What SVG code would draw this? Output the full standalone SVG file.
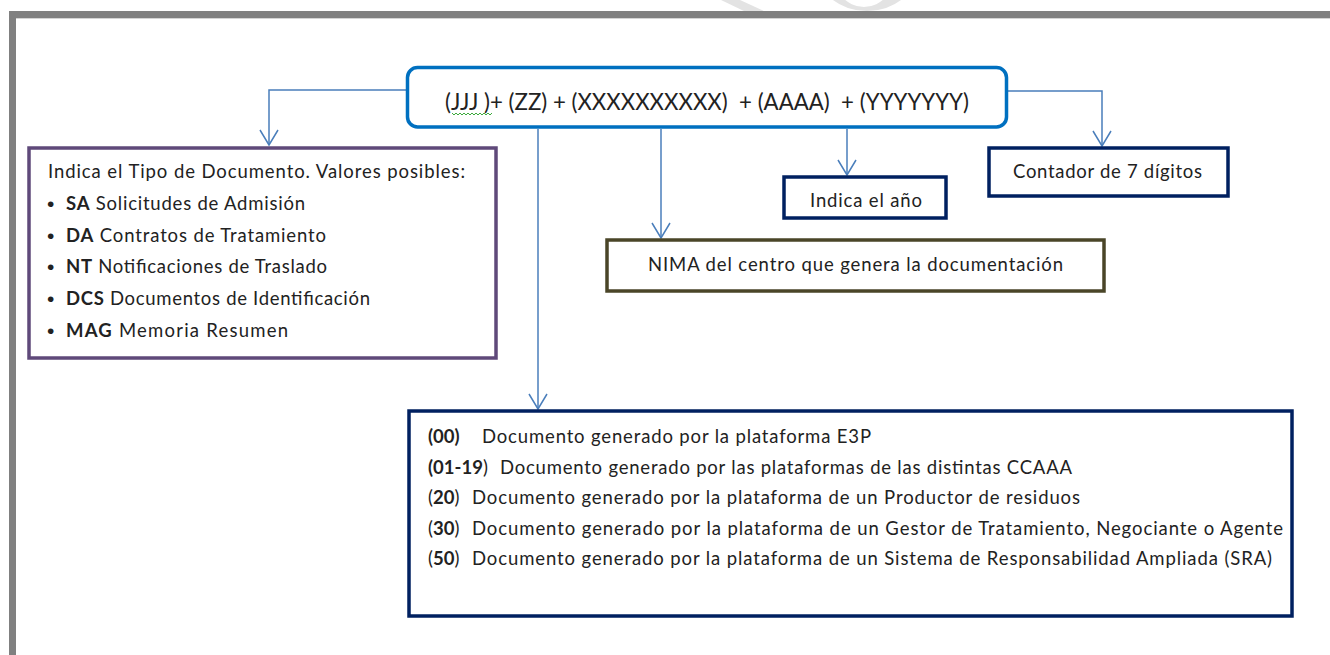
<svg xmlns="http://www.w3.org/2000/svg" width="1330" height="655" viewBox="0 0 1330 655">
  <style>
    .t { font-family: Lato, "Liberation Sans", sans-serif; font-size: 18.5px; fill: #222; white-space: pre; }
    .b { font-weight: bold; }
    .big { font-size: 23px; }
    .bul { font-family: "Liberation Sans", sans-serif; font-size: 21px; fill: #222; }
    .conn { fill: none; stroke: #4A7EBB; stroke-width: 1.5; }
    .box { fill: #fff; stroke-width: 3.5; }
  </style>
  <defs>
    <marker id="arr" markerUnits="userSpaceOnUse" markerWidth="22" markerHeight="22" viewBox="0 0 22 22" refX="17" refY="11" orient="auto">
      <path d="M2,2 L17,11 L2,20" fill="none" stroke="#4A7EBB" stroke-width="1.5"/>
    </marker>
    <clipPath id="topclip"><rect x="0" y="0" width="1330" height="12"/></clipPath>
  </defs>
  <rect width="1330" height="655" fill="#fff"/>
  <!-- watermark fragment -->
  <g fill="#e3e3e3" clip-path="url(#topclip)">
    <polygon points="721,0 740,0 766,12 746,12"/>
    <path fill-rule="evenodd" d="M817,-30 A50,41 0 0 0 917,-30 A50,41 0 0 0 817,-30 Z M832,-30 A32,37 0 0 0 896,-30 A32,37 0 0 0 832,-30 Z"/>
  </g>
  <!-- page frame -->
  <g id="frame">
    <rect x="9" y="11" width="1321" height="7" fill="#808080"/>
    <rect x="9" y="11" width="7" height="644" fill="#808080"/>
    <rect x="16" y="18" width="1314" height="1" fill="#d4d4d4"/>
  </g>

  <g id="connectors">
    <path class="conn" d="M406,90 H269 V145" marker-end="url(#arr)"/>
    <path class="conn" d="M538,129 V409" marker-end="url(#arr)"/>
    <path class="conn" d="M661,129 V238" marker-end="url(#arr)"/>
    <path class="conn" d="M847,129 V175" marker-end="url(#arr)"/>
    <path class="conn" d="M1008,91 H1102 V146" marker-end="url(#arr)"/>
  </g>

  <g id="code">
    <rect class="box" x="407.5" y="67.5" width="599" height="59.5" rx="10" stroke="#0070C0" stroke-width="4"/>
    <text class="t big" x="445" y="110" textLength="524" lengthAdjust="spacingAndGlyphs">(JJJ )+ (ZZ) + (XXXXXXXXXX)  + (AAAA)  + (YYYYYYY)</text>
    <path d="M452,113 l2,2 l2,-2 l2,2 l2,-2 l2,2 l2,-2 l2,2 l2,-2 l2,2 l2,-2 l2,2 l2,-2 l2,2 l2,-2 l2,2 l2,-2 l2,2 l2,-2 l2,2 l2,-2" fill="none" stroke="#3DAA3D" stroke-width="1"/>
  </g>

  <g id="tipo">
    <rect class="box" x="29" y="148" width="467" height="210" stroke="#5F497A"/>
    <text class="t" x="48" y="178" textLength="417">Indica el Tipo de Documento. Valores posibles:</text>
    <text class="bul" x="47" y="211">•</text>
    <text class="t" x="66" y="210" textLength="239"><tspan class="b">SA</tspan> Solicitudes de Admisión</text>
    <text class="bul" x="47" y="243">•</text>
    <text class="t" x="66" y="242" textLength="260"><tspan class="b">DA</tspan> Contratos de Tratamiento</text>
    <text class="bul" x="47" y="274">•</text>
    <text class="t" x="66" y="273" textLength="261"><tspan class="b">NT</tspan> Notificaciones de Traslado</text>
    <text class="bul" x="47" y="306">•</text>
    <text class="t" x="66" y="305" textLength="304"><tspan class="b">DCS</tspan> Documentos de Identificación</text>
    <text class="bul" x="47" y="338">•</text>
    <text class="t" x="66" y="337" textLength="222"><tspan class="b">MAG</tspan> Memoria Resumen</text>
  </g>

  <g id="anio">
    <rect class="box" x="784" y="177" width="162" height="41" stroke="#002060"/>
    <text class="t" x="810" y="207" textLength="112">Indica el año</text>
  </g>

  <g id="contador">
    <rect class="box" x="989" y="148" width="239" height="48" stroke="#002060"/>
    <text class="t" x="1013" y="178" textLength="189">Contador de 7 dígitos</text>
  </g>

  <g id="nima">
    <rect class="box" x="607" y="240" width="497" height="51" stroke="#4A4528"/>
    <text class="t" x="648" y="271" textLength="415">NIMA del centro que genera la documentación</text>
  </g>

  <g id="plataforma">
    <rect class="box" x="409" y="411" width="883" height="205" stroke="#002060" stroke-width="4"/>
    <text class="t b" x="428" y="443">(00)</text>
    <text class="t" x="482" y="443" textLength="389">Documento generado por la plataforma E3P</text>
    <text class="t" x="428" y="474"><tspan class="b">(01-19</tspan>)</text>
    <text class="t" x="500" y="474" textLength="572">Documento generado por las plataformas de las distintas CCAAA</text>
    <text class="t" x="428" y="504">(<tspan class="b">20</tspan>)</text>
    <text class="t" x="472" y="504" textLength="608">Documento generado por la plataforma de un Productor de residuos</text>
    <text class="t" x="428" y="535">(<tspan class="b">30</tspan>)</text>
    <text class="t" x="472" y="535" textLength="811">Documento generado por la plataforma de un Gestor de Tratamiento, Negociante o Agente</text>
    <text class="t" x="428" y="565">(<tspan class="b">50</tspan>)</text>
    <text class="t" x="472" y="565" textLength="800">Documento generado por la plataforma de un Sistema de Responsabilidad Ampliada (SRA)</text>
  </g>
</svg>
